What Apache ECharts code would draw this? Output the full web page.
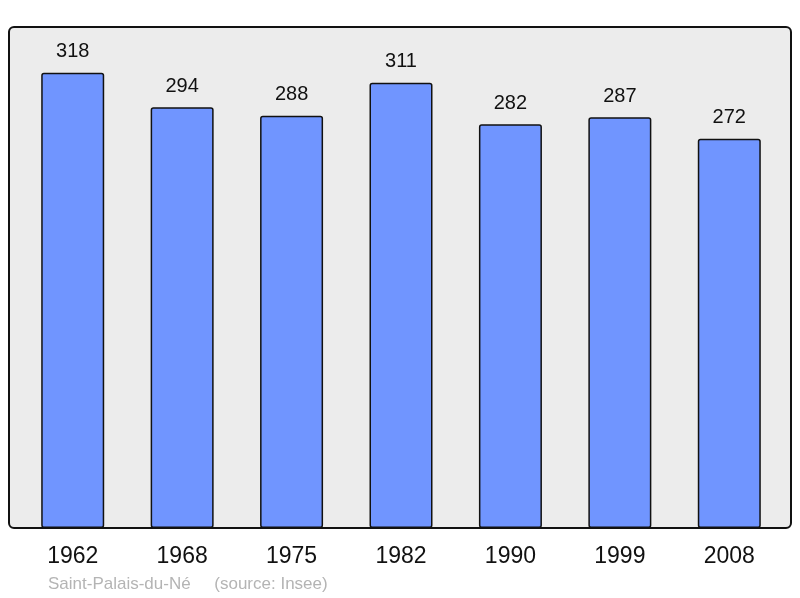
<!DOCTYPE html>
<html><head><meta charset="utf-8">
<script src="https://cdn.jsdelivr.net/npm/echarts@6/dist/echarts.min.js"></script>
<style>html,body{margin:0;padding:0;background:#fff}#c{width:800px;height:598px}</style>
</head><body><div id="c"></div>
<script>
const categories = ['1962','1968','1975','1982','1990','1999','2008'];
const values = [318, 294, 288, 311, 282, 287, 272];
const footer = 'Saint-Palais-du-Né     (source: Insee)';

const chart = echarts.init(document.getElementById('c'));
chart.setOption({
  animation: false,
  graphic: [
    { type: 'rect', z: -10, shape: { x: 9, y: 27, width: 782, height: 501, r: 5 },
      style: { fill: '#ececec', stroke: '#111', lineWidth: 2 } },
    { type: 'text', left: 48, top: 576, style: { text: footer, fill: '#b4b4b4', font: '17px "Liberation Sans", Arial, sans-serif' } }
  ],
  grid: { left: 18, right: 16, top: 27, bottom: 70 },
  xAxis: {
    type: 'category', data: categories,
    axisLine: { show: false }, axisTick: { show: false },
    axisLabel: { color: '#111', fontSize: 23, margin: 17, fontFamily: 'Liberation Sans, Arial, sans-serif' }
  },
  yAxis: { type: 'value', min: 0, max: 350, show: false, splitLine: { show: false } },
  series: [{
    type: 'bar', data: values, barWidth: 63,
    itemStyle: { color: '#7095ff', borderColor: '#111', borderWidth: 1.5, borderRadius: 2 },
    label: { show: true, position: 'top', distance: 11, color: '#111', fontSize: 20, fontFamily: 'Liberation Sans, Arial, sans-serif' }
  }]
});
</script></body></html>
